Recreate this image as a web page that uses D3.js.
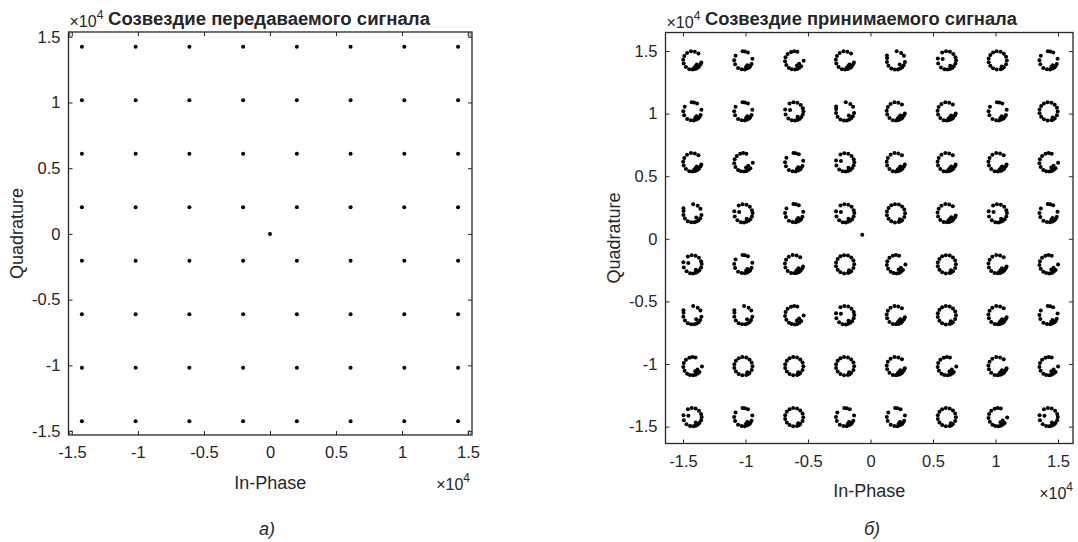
<!DOCTYPE html>
<html>
<head>
<meta charset="utf-8">
<script src="https://cdn.jsdelivr.net/npm/d3@7"></script>
<style>
  body { margin: 0; background: #fff; }
  text { font-family: Arial, "Liberation Sans", sans-serif; fill: #262626; }
</style>
</head>
<body>
<svg id="chart" width="1078" height="542"></svg>
<script>
// constellation levels (raw units, axis shows x10^4)
const levels = [-14245, -10175, -6105, -2035, 2035, 6105, 10175, 14245];
const tickValues = [-15000, -10000, -5000, 0, 5000, 10000, 15000];
const txExtra = [[0, 0]];
const rxExtra = [[-660, 320]];

// ring shapes seen around each received point, offsets [dI, dQ]
const ringA = [[480, 560], [190, 700], [-120, 740], [-430, 600], [-650, 360], [-740, 60], [-700, -250], [-520, -530],
  [-250, -700], [0, -720], [190, -690], [300, -640], [410, -590], [520, -500], [640, -330], [710, -170], [260, -440],
  [350, -320], [150, -560]];
const ringB = [[370, 640], [130, 720], [-60, 740], [-620, 380], [-730, 20], [-660, -300], [-420, -600], [-130, -700],
  [120, -720], [310, -650], [470, -560], [560, -450], [660, -280], [720, 130], [320, -380], [220, -520]];
const ringC = [[250, 690], [0, 740], [-250, 680], [-520, 520], [-690, 250], [-730, -60], [-630, -360], [-420, -600],
  [-190, -700], [60, -730], [250, -690], [420, -590], [560, -460], [220, -410], [400, -270], [760, -20]];
const ringD = [[690, 250], [520, 520], [250, 690], [-60, 730], [-370, 630], [-690, -250], [-470, -560], [-190, -710],
  [60, -730], [250, -680], [420, -600], [560, -470], [690, -250], [740, 20], [-330, 110], [-720, 160], [270, -430]];
const ringE = [[730, 0], [670, 300], [490, 540], [230, 700], [-80, 730], [-370, 640], [-590, 430], [-720, 150],
  [-720, -150], [-590, -430], [-370, -630], [-80, -730], [230, -700], [370, -640], [490, -550], [670, -300], [320, -480]];
const ringF = [[640, 370], [420, 600], [60, 730], [-710, 190], [-720, -130], [-600, -420], [-370, -640], [-100, -720],
  [150, -720], [340, -650], [490, -550], [620, -390], [720, -130], [300, -330], [-720, 400]];
const rings = { A: ringA, B: ringB, C: ringC, D: ringD, E: ringE, F: ringF };
// which ring shape sits at each point, rows from top (Q high) to bottom, columns I low -> high
const ringRows = ["ABCAFDEB", "BBDFAABE", "ACBDAAAC", "FDBDEADB", "DBAECEAC", "FFCDAEAB", "CEEEACAC", "DBEBBECD"];

const svg = d3.select("#chart");

function txPoints() {
  const pts = [];
  levels.forEach(q => levels.forEach(i => pts.push([i, q])));
  return pts.concat(txExtra);
}

function rxPoints() {
  const pts = [];
  const rowsQ = levels.slice().reverse();
  rowsQ.forEach((q, r) => {
    levels.forEach((i, c) => {
      rings[ringRows[r][c]].forEach(o => pts.push([i + o[0], q + o[1]]));
    });
  });
  return pts.concat(rxExtra);
}

function drawPanel(p) {
  const x = d3.scaleLinear().domain(p.xDomain).range(p.xRange);
  const y = d3.scaleLinear().domain(p.yDomain).range(p.yRange);
  const g = svg.append("g");
  const fmt = d => String(d / 10000);

  g.selectAll("circle")
    .data(p.points)
    .enter().append("circle")
    .attr("cx", d => x(d[0]))
    .attr("cy", d => y(d[1]))
    .attr("r", p.r)
    .attr("fill", "#000");

  g.append("g")
    .attr("transform", "translate(0," + p.yRange[0] + ")")
    .call(d3.axisBottom(x).tickValues(tickValues).tickFormat(fmt).tickSizeInner(-4).tickSizeOuter(0).tickPadding(p.xPad));
  g.append("g")
    .attr("transform", "translate(" + p.xRange[0] + ",0)")
    .call(d3.axisLeft(y).tickValues(tickValues).tickFormat(fmt).tickSizeInner(-4).tickSizeOuter(0).tickPadding(p.yPad));
  g.append("g")
    .attr("transform", "translate(0," + p.yRange[1] + ")")
    .call(d3.axisTop(x).tickValues(tickValues).tickFormat("").tickSizeInner(-4).tickSizeOuter(0));
  g.append("g")
    .attr("transform", "translate(" + p.xRange[1] + ",0)")
    .call(d3.axisRight(y).tickValues(tickValues).tickFormat("").tickSizeInner(-4).tickSizeOuter(0));
  g.selectAll(".domain").remove();
  g.selectAll(".tick line").attr("stroke", "#262626");
  g.selectAll(".tick text").style("font-size", "16.5px").attr("fill", "#262626");

  g.append("rect")
    .attr("x", p.xRange[0]).attr("y", p.yRange[1])
    .attr("width", p.xRange[1] - p.xRange[0])
    .attr("height", p.yRange[0] - p.yRange[1])
    .attr("fill", "none").attr("stroke", "#262626").attr("stroke-width", 1.3);

  if (p.corners) {
    [[p.xRange[0] + 1, p.yRange[1] + 1], [p.xRange[1] - 4, p.yRange[1] + 1],
     [p.xRange[0] + 1, p.yRange[0] - 4], [p.xRange[1] - 4, p.yRange[0] - 4]].forEach(c => {
      g.append("rect").attr("x", c[0]).attr("y", c[1]).attr("width", 3).attr("height", 3)
        .attr("fill", "none").attr("stroke", "#555").attr("stroke-width", 0.8);
    });
  }

  const cx = (p.xRange[0] + p.xRange[1]) / 2;
  g.append("text")
    .attr("x", p.titleX).attr("y", 25)
    .attr("text-anchor", "middle")
    .style("font-size", "17.5px").style("font-weight", "bold").attr("fill", "#000")
    .attr("textLength", p.titleW).attr("lengthAdjust", "spacingAndGlyphs")
    .text(p.title);

  const expTop = g.append("text").attr("x", p.xRange[0] + 1).attr("y", p.expTopY).style("font-size", "16px");
  expTop.append("tspan").text("\u00d710");
  expTop.append("tspan").attr("dy", -8).style("font-size", "12px").text("4");

  const expBot = g.append("text").attr("x", p.xRange[1] + p.expBotDx).attr("y", p.expBotY)
    .attr("text-anchor", "end").style("font-size", "16px");
  expBot.append("tspan").text("\u00d710");
  expBot.append("tspan").attr("dy", -8).style("font-size", "12px").text("4");

  g.append("text")
    .attr("x", cx).attr("y", p.xLabelY)
    .attr("text-anchor", "middle").style("font-size", "18px")
    .text("In-Phase");
  g.append("text")
    .attr("transform", "translate(" + p.yLabelX + "," + ((p.yRange[0] + p.yRange[1]) / 2) + ")rotate(-90)")
    .attr("text-anchor", "middle").style("font-size", "18px")
    .text("Quadrature");
  g.append("text")
    .attr("x", p.capX).attr("y", 535)
    .attr("text-anchor", "middle").style("font-size", "18px").style("font-style", "italic").attr("fill", "#000")
    .text(p.caption);
}

drawPanel({
  points: txPoints(), r: 2, corners: true,
  xDomain: [-15260, 15300], xRange: [68.5, 472],
  yDomain: [-15300, 15360], yRange: [435, 32],
  title: "Созвездие передаваемого сигнала", titleX: 269, titleW: 322,
  expTopY: 27, expBotY: 490, expBotDx: -2, xPad: 11, yPad: 8,
  xLabelY: 489, yLabelX: 23, capX: 267, caption: "а)"
});

drawPanel({
  points: rxPoints(), r: 2, corners: false,
  xDomain: [-16400, 16200], xRange: [665.5, 1073],
  yDomain: [-16350, 16480], yRange: [443.5, 32.5],
  title: "Созвездие принимаемого сигнала", titleX: 861, titleW: 312,
  expTopY: 28, expBotY: 499, expBotDx: 0, xPad: 12, yPad: 8,
  xLabelY: 497, yLabelX: 620, capX: 872, caption: "б)"
});
</script>
</body>
</html>
